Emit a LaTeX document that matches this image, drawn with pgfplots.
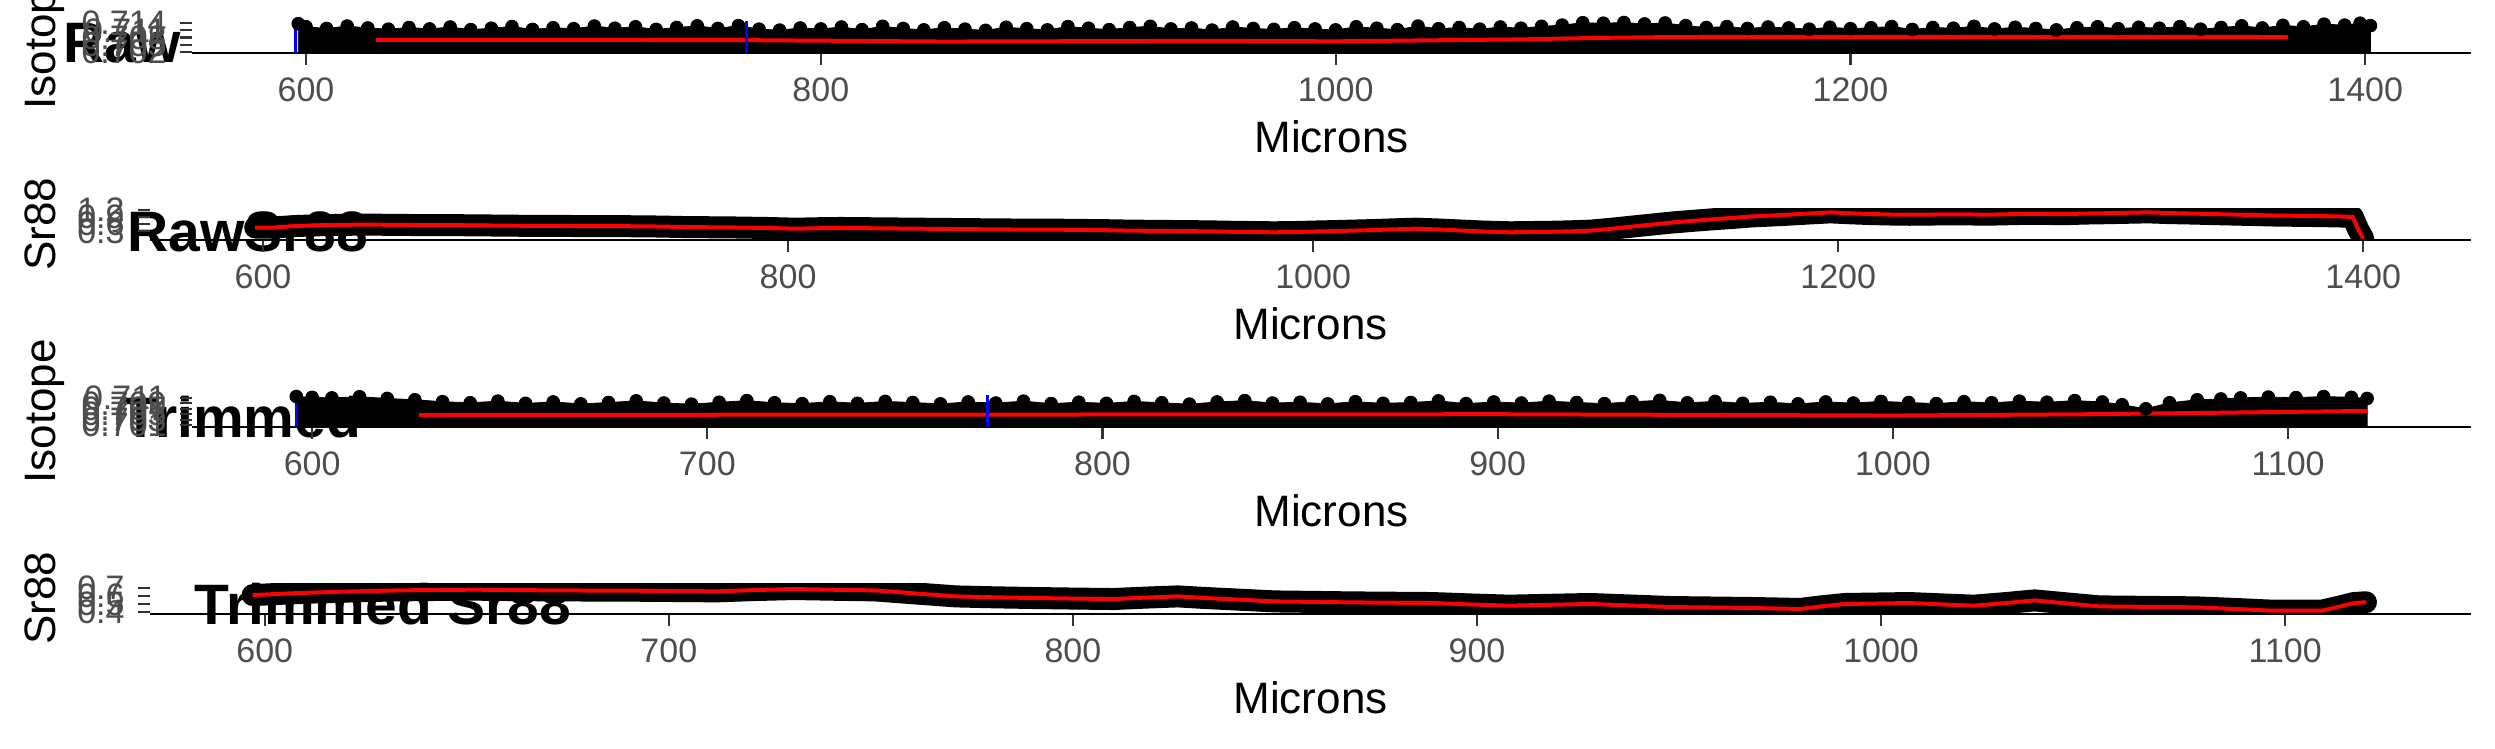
\documentclass[border=0pt]{standalone}
\usepackage{pgfplots}
\pgfplotsset{compat=1.18}
\usepackage{fontspec}
\setmainfont{Liberation Sans}
\definecolor{tickgray}{HTML}{333333}
\definecolor{labgray}{HTML}{4D4D4D}
\pgfplotsset{
  panel/.style={
    scale only axis, anchor=south west,
    axis x line*=bottom, axis y line*=left,
    y axis line style={draw=none},
    x axis line style={line width=1.35pt, black, -},
    tick align=outside, major tick length=6pt,
    tick style={tickgray, line width=1.1pt},
    tick label style={font=\fontsize{17}{17}\selectfont, text=labgray, inner sep=0pt},
    xticklabel style={anchor=north},
    yticklabel style={anchor=east},
    xticklabel shift=6pt,
    yticklabel shift=6.5pt,
    /pgf/number format/assume math mode=true,
    clip=true,
  }
}
\begin{document}
\begin{tikzpicture}
\useasboundingbox (0,0) rectangle (1247.5pt,374.5pt);
% titles (drawn below the panels)
\node[anchor=base west, inner sep=0pt, font=\fontsize{28.5}{28.5}\selectfont\bfseries] at (31.5pt,343pt) {Raw};
\node[anchor=base west, inner sep=0pt, font=\fontsize{28.5}{28.5}\selectfont\bfseries] at (63.5pt,248.5pt) {RawSr88};
\node[anchor=base west, inner sep=0pt, font=\fontsize{28.5}{28.5}\selectfont\bfseries] at (61.5pt,155.5pt) {Trimmed};
\node[anchor=base west, inner sep=0pt, font=\fontsize{28.5}{28.5}\selectfont\bfseries] at (97pt,62pt) {Trimmed Sr88};
% axis titles
\node[anchor=base, inner sep=0pt, font=\fontsize{22}{22}\selectfont] at (665.75pt,298pt) {Microns};
\node[anchor=base, inner sep=0pt, font=\fontsize{22}{22}\selectfont] at (655.25pt,204.5pt) {Microns};
\node[anchor=base, inner sep=0pt, font=\fontsize{22}{22}\selectfont] at (665.75pt,111pt) {Microns};
\node[anchor=base, inner sep=0pt, font=\fontsize{22}{22}\selectfont] at (655.25pt,17.5pt) {Microns};
\node[anchor=base, rotate=90, inner sep=0pt, font=\fontsize{22}{22}\selectfont] at (27.5pt,355.75pt) {Isotope};
\node[anchor=base, rotate=90, inner sep=0pt, font=\fontsize{22}{22}\selectfont] at (27.5pt,262.25pt) {Sr88};
\node[anchor=base, rotate=90, inner sep=0pt, font=\fontsize{22}{22}\selectfont] at (27.5pt,168.75pt) {Isotope};
\node[anchor=base, rotate=90, inner sep=0pt, font=\fontsize{22}{22}\selectfont] at (27.5pt,75.25pt) {Sr88};

% ---------------- Panel 1: Raw isotope ----------------
\begin{axis}[panel, at={(96pt,348pt)}, width=1139.5pt, height=15.5pt,
  xmin=555.7, xmax=1441.2, ymin=0.7015, ymax=0.71452,
  xtick={600,800,1000,1200,1400}, xticklabels={600,800,1000,1200,1400},
  ytick={0.702,0.705,0.708,0.711,0.714}, yticklabels={0.702,0.705,0.708,0.711,0.714}]
\addplot[black, fill=black, mark=*, mark size=3.2pt] coordinates {
(597,0.7138)(600,0.7125)(608,0.7118)(616,0.7128)(624,0.7120)(632,0.7115)(640,0.7122)(648,0.7116)(656,0.7124)(664,0.7113)
(672,0.7119)(680,0.7126)(688,0.7114)(696,0.7121)(704,0.7117)(712,0.7128)(720,0.7119)(728,0.7125)(736,0.7114)(744,0.7122)
(752,0.7129)(760,0.7118)(768,0.7130)(776,0.7115)(784,0.7111)(792,0.7120)(800,0.7116)(808,0.7124)(816,0.7113)(824,0.7127)
(832,0.7118)(840,0.7112)(848,0.7121)(856,0.7115)(864,0.7110)(872,0.7123)(880,0.7117)(888,0.7112)(896,0.7126)(904,0.7119)
(912,0.7113)(920,0.7122)(928,0.7127)(936,0.7116)(944,0.7120)(952,0.7111)(960,0.7124)(968,0.7118)(976,0.7114)(984,0.7121)
(992,0.7116)(1000,0.7112)(1008,0.7125)(1016,0.7119)(1024,0.7113)(1032,0.7128)(1040,0.7117)(1048,0.7122)(1056,0.7115)(1064,0.7124)
(1072,0.7119)(1080,0.7127)(1088,0.7132)(1096,0.7142)(1104,0.7140)(1112,0.7143)(1120,0.7137)(1128,0.7141)(1136,0.7130)(1144,0.7122)
(1152,0.7126)(1160,0.7118)(1168,0.7124)(1176,0.7120)(1184,0.7115)(1192,0.7123)(1200,0.7117)(1208,0.7121)(1216,0.7126)(1224,0.7114)
(1232,0.7122)(1240,0.7119)(1248,0.7127)(1256,0.7116)(1264,0.7123)(1272,0.7118)(1280,0.7112)(1288,0.7121)(1296,0.7125)(1304,0.7117)
(1312,0.7123)(1320,0.7119)(1328,0.7126)(1336,0.7115)(1344,0.7122)(1352,0.7129)(1360,0.7120)(1368,0.7131)(1376,0.7125)(1384,0.7136)
(1392,0.7132)(1398,0.7140)(1402,0.7130)} \closedcycle;
\addplot[red, line width=2pt, no marks] coordinates {
(627,0.7070)(700,0.7070)(770,0.7069)(848,0.7063)(950,0.7066)(1000,0.7064)(1071,0.7072)(1100,0.7078)(1130,0.7082)(1200,0.7083)(1300,0.7083)(1370,0.7082)};
\addplot[blue, line width=1.5pt, no marks] coordinates {(596,0.70) (596,0.72)};
\addplot[blue, line width=1.5pt, no marks] coordinates {(771,0.70) (771,0.72)};
\end{axis}

% ---------------- Panel 2: Raw Sr88 ----------------
\begin{axis}[panel, at={(75pt,254.5pt)}, width=1160.5pt, height=15.5pt,
  xmin=556.95, xmax=1441.1, ymin=-0.06, ymax=1.23,
  xtick={600,800,1000,1200,1400}, xticklabels={600,800,1000,1200,1400},
  ytick={0.3,0.6,0.9,1.2}, yticklabels={0.3,0.6,0.9,1.2}]
\addplot[black, line width=11pt, line cap=round, line join=round, no marks] coordinates {
(597,0.46)(603,0.45)(612,0.52)(620,0.55)(630,0.57)(639,0.58)(650,0.57)(660,0.56)(670,0.56)(680,0.55)(690,0.54)(700,0.53)
(710,0.53)(720,0.52)(731,0.52)(742,0.51)(751,0.50)(760,0.48)(770,0.47)(780,0.46)(792,0.44)(803,0.41)(812,0.43)(820,0.44)
(830,0.43)(840,0.42)(850,0.41)(860,0.40)(870,0.39)(880,0.38)(894,0.37)(902,0.37)(910,0.36)(920,0.35)(930,0.33)(940,0.32)
(950,0.31)(960,0.30)(970,0.28)(985,0.26)(993,0.27)(1000,0.29)(1008,0.31)(1015,0.33)(1022,0.35)(1030,0.38)(1039,0.41)
(1047,0.38)(1055,0.34)(1065,0.29)(1075,0.26)(1082,0.27)(1090,0.28)(1098,0.30)(1106,0.33)(1113,0.40)(1120,0.48)(1128,0.57)
(1137,0.67)(1145,0.74)(1152,0.80)(1160,0.86)(1167,0.92)(1175,0.96)(1182,1.00)(1190,1.05)(1197,1.09)(1205,1.05)(1212,1.02)
(1220,1.00)(1227,0.99)(1236,1.00)(1245,1.01)(1252,1.00)(1260,1.00)(1268,1.02)(1275,1.03)(1282,1.02)(1288,1.02)(1294,1.04)
(1300,1.05)(1309,1.07)(1318,1.09)(1326,1.06)(1335,1.04)(1342,1.02)(1350,1.00)(1358,0.98)(1365,0.96)(1372,0.95)(1380,0.94)
(1386,0.93)(1391,0.92)(1396,0.90)(1398,0.40)(1400,0.00)};
\addplot[red, line width=2pt, no marks] coordinates {
(597,0.46)(603,0.45)(612,0.52)(620,0.55)(630,0.57)(639,0.58)(650,0.57)(660,0.56)(670,0.56)(680,0.55)(690,0.54)(700,0.53)
(710,0.53)(720,0.52)(731,0.52)(742,0.51)(751,0.50)(760,0.48)(770,0.47)(780,0.46)(792,0.44)(803,0.41)(812,0.43)(820,0.44)
(830,0.43)(840,0.42)(850,0.41)(860,0.40)(870,0.39)(880,0.38)(894,0.37)(902,0.37)(910,0.36)(920,0.35)(930,0.33)(940,0.32)
(950,0.31)(960,0.30)(970,0.28)(985,0.26)(993,0.27)(1000,0.29)(1008,0.31)(1015,0.33)(1022,0.35)(1030,0.38)(1039,0.41)
(1047,0.38)(1055,0.34)(1065,0.29)(1075,0.26)(1082,0.27)(1090,0.28)(1098,0.30)(1106,0.33)(1113,0.40)(1120,0.48)(1128,0.57)
(1137,0.67)(1145,0.74)(1152,0.80)(1160,0.86)(1167,0.92)(1175,0.96)(1182,1.00)(1190,1.05)(1197,1.09)(1205,1.05)(1212,1.02)
(1220,1.00)(1227,0.99)(1236,1.00)(1245,1.01)(1252,1.00)(1260,1.00)(1268,1.02)(1275,1.03)(1282,1.02)(1288,1.02)(1294,1.04)
(1300,1.05)(1309,1.07)(1318,1.09)(1326,1.06)(1335,1.04)(1342,1.02)(1350,1.00)(1358,0.98)(1365,0.96)(1372,0.95)(1380,0.94)
(1386,0.93)(1391,0.92)(1396,0.90)(1398,0.40)(1400,0.00)};
\end{axis}

% ---------------- Panel 3: Trimmed isotope ----------------
\begin{axis}[panel, at={(96pt,161pt)}, width=1139.5pt, height=15.5pt,
  xmin=569.6, xmax=1146.3, ymin=0.7003, ymax=0.7117,
  xtick={600,700,800,900,1000,1100}, xticklabels={600,700,800,900,1000,1100},
  ytick={0.701,0.703,0.705,0.707,0.709,0.711}, yticklabels={0.701,0.703,0.705,0.707,0.709,0.711}]
\addplot[black, fill=black, mark=*, mark size=3.2pt] coordinates {
(596,0.7115)(600,0.7112)(605,0.7110)(612,0.7114)(619,0.7108)(626,0.7103)(633,0.7096)(640,0.7092)(647,0.7098)(654,0.7090)
(661,0.7095)(668,0.7088)(675,0.7093)(682,0.7099)(689,0.7091)(696,0.7087)(703,0.7094)(710,0.7100)(717,0.7092)(724,0.7089)
(731,0.7096)(738,0.7090)(745,0.7097)(752,0.7093)(759,0.7088)(766,0.7095)(773,0.7091)(780,0.7098)(787,0.7089)(794,0.7094)
(801,0.7090)(808,0.7097)(815,0.7092)(822,0.7087)(829,0.7095)(836,0.7100)(843,0.7091)(850,0.7094)(857,0.7088)(864,0.7096)
(871,0.7090)(878,0.7093)(885,0.7099)(892,0.7089)(899,0.7095)(906,0.7091)(913,0.7098)(920,0.7093)(927,0.7089)(934,0.7096)
(941,0.7101)(948,0.7092)(955,0.7097)(962,0.7090)(969,0.7094)(976,0.7088)(983,0.7095)(990,0.7091)(997,0.7097)(1004,0.7093)
(1011,0.7089)(1018,0.7096)(1025,0.7092)(1032,0.7098)(1039,0.7094)(1046,0.7100)(1053,0.7095)(1058,0.7085)(1064,0.7070)(1070,0.7092)
(1077,0.7103)(1083,0.7106)(1088,0.7110)(1095,0.7113)(1102,0.7111)(1109,0.7115)(1116,0.7112)(1120,0.7108)} \closedcycle;
\addplot[red, line width=2pt, no marks] coordinates {
(627,0.7047)(700,0.7048)(800,0.7049)(900,0.7050)(1000,0.7045)(1050,0.7050)(1080,0.7055)(1120,0.7062)};
\addplot[blue, line width=1.5pt, no marks] coordinates {(596,0.70) (596,0.72)};
\addplot[blue, line width=1.5pt, no marks] coordinates {(771,0.70) (771,0.72)};
\end{axis}

% ---------------- Panel 4: Trimmed Sr88 ----------------
\begin{axis}[panel, at={(75pt,67.5pt)}, width=1160.5pt, height=15.5pt,
  xmin=571.6, xmax=1146, ymin=0.373, ymax=0.7605,
  xtick={600,700,800,900,1000,1100}, xticklabels={600,700,800,900,1000,1100},
  ytick={0.4,0.5,0.6,0.7}, yticklabels={0.4,0.5,0.6,0.7}]
\addplot[black, line width=11pt, line cap=round, line join=round, no marks] coordinates {
(597,0.610)(599,0.614)(606,0.630)(613,0.643)(623,0.657)(633,0.668)(642,0.673)(652,0.677)(662,0.672)(672,0.668)(682,0.666)
(692,0.664)(702,0.660)(712,0.656)(721,0.672)(731,0.685)(741,0.676)(751,0.668)(761,0.630)(771,0.593)(780,0.582)(790,0.573)
(800,0.566)(810,0.560)(818,0.578)(826,0.593)(832,0.575)(838,0.560)(844,0.545)(850,0.530)(860,0.524)(869,0.518)(879,0.514)
(889,0.510)(898,0.493)(908,0.477)(918,0.488)(928,0.498)(938,0.479)(948,0.460)(958,0.454)(968,0.448)(974,0.442)(980,0.436)
(985,0.467)(991,0.498)(999,0.504)(1007,0.510)(1015,0.493)(1023,0.477)(1031,0.510)(1038,0.543)(1046,0.505)(1054,0.468)
(1066,0.462)(1078,0.456)(1088,0.435)(1097,0.414)(1103,0.414)(1109,0.414)(1113,0.460)(1117,0.510)(1120,0.520)};
\addplot[red, line width=2pt, no marks] coordinates {
(597,0.610)(599,0.614)(606,0.630)(613,0.643)(623,0.657)(633,0.668)(642,0.673)(652,0.677)(662,0.672)(672,0.668)(682,0.666)
(692,0.664)(702,0.660)(712,0.656)(721,0.672)(731,0.685)(741,0.676)(751,0.668)(761,0.630)(771,0.593)(780,0.582)(790,0.573)
(800,0.566)(810,0.560)(818,0.578)(826,0.593)(832,0.575)(838,0.560)(844,0.545)(850,0.530)(860,0.524)(869,0.518)(879,0.514)
(889,0.510)(898,0.493)(908,0.477)(918,0.488)(928,0.498)(938,0.479)(948,0.460)(958,0.454)(968,0.448)(974,0.442)(980,0.436)
(985,0.467)(991,0.498)(999,0.504)(1007,0.510)(1015,0.493)(1023,0.477)(1031,0.510)(1038,0.543)(1046,0.505)(1054,0.468)
(1066,0.462)(1078,0.456)(1088,0.435)(1097,0.414)(1103,0.414)(1109,0.414)(1113,0.460)(1117,0.510)(1120,0.520)};
\end{axis}
\end{tikzpicture}
\end{document}
